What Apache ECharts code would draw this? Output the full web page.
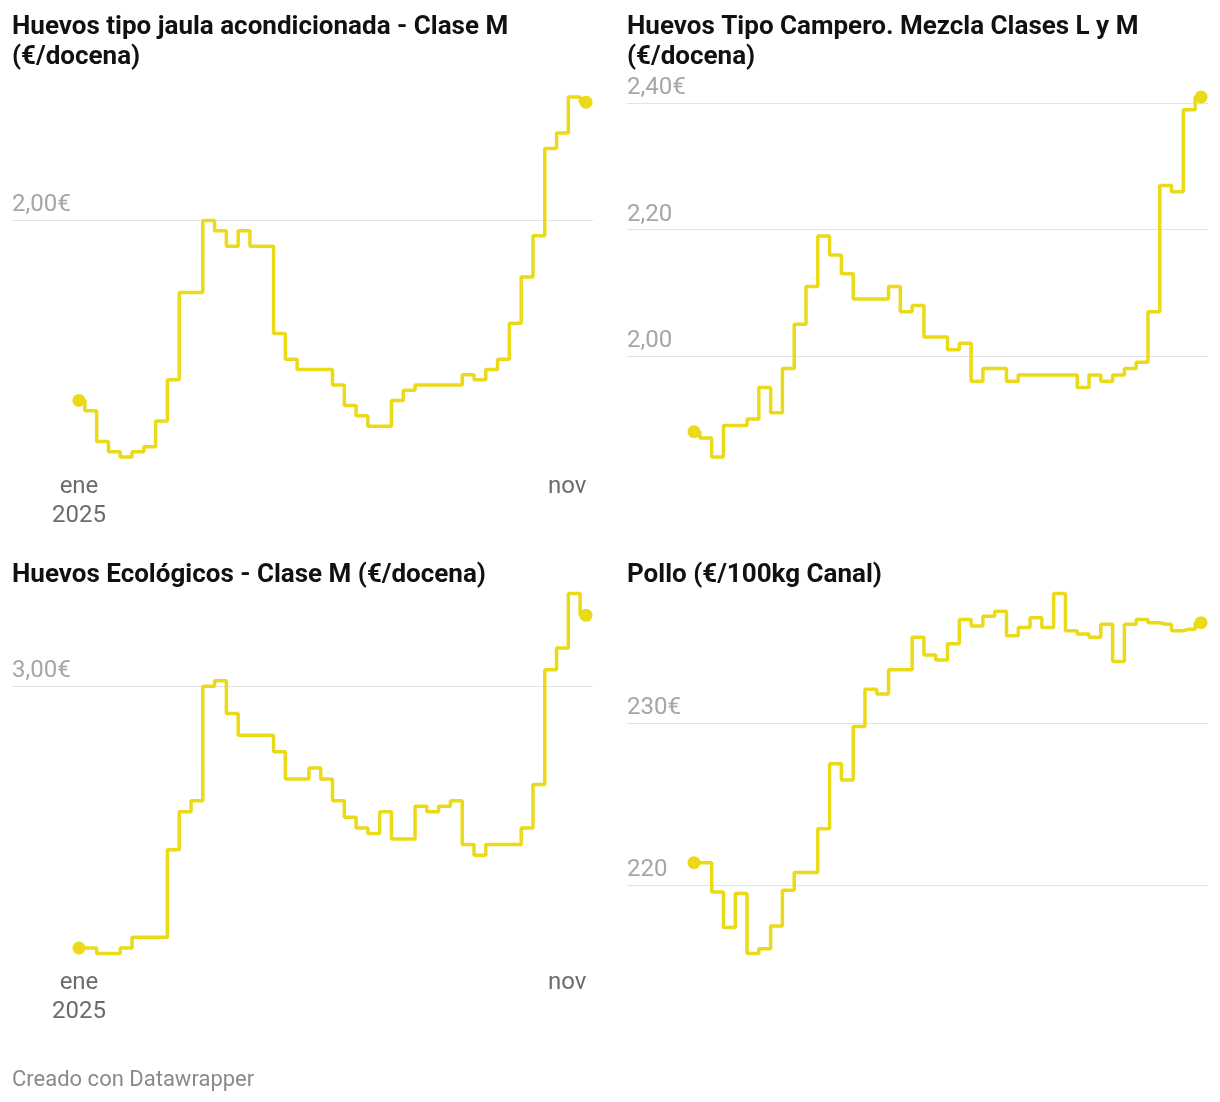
<!DOCTYPE html>
<html>
<head>
<meta charset="utf-8">
<script src="https://cdn.jsdelivr.net/npm/echarts@6/dist/echarts.min.js"></script>
<style>
html,body{margin:0;padding:0;background:#fff;}
#chart{width:1220px;height:1102px;}
</style>
</head>
<body>
<div id="chart"></div>
<script>
// Weekly prices, 2025 (week index 0..43)
const titles = [
  "Huevos tipo jaula acondicionada - Clase M\n(€/docena)",
  "Huevos Tipo Campero. Mezcla Clases L y M\n(€/docena)",
  "Huevos Ecológicos - Clase M (€/docena)",
  "Pollo (€/100kg Canal)"
];
const xTickValues = [0, 41.4];
const xTickLabels = ["ene\n2025", "nov"];

const jaulaM = [1.65,1.63,1.57,1.55,1.54,1.55,1.56,1.61,1.69,1.86,1.86,2.00,1.98,1.95,1.98,1.95,1.95,1.78,1.73,1.71,1.71,1.71,1.68,1.64,1.62,1.60,1.60,1.65,1.67,1.68,1.68,1.68,1.68,1.70,1.69,1.71,1.73,1.80,1.89,1.97,2.14,2.17,2.24,2.23];
const camperoLM = [1.88,1.87,1.84,1.89,1.89,1.90,1.95,1.91,1.98,2.05,2.11,2.19,2.16,2.13,2.09,2.09,2.09,2.11,2.07,2.08,2.03,2.03,2.01,2.02,1.96,1.98,1.98,1.96,1.97,1.97,1.97,1.97,1.97,1.95,1.97,1.96,1.97,1.98,1.99,2.07,2.27,2.26,2.39,2.41];
const ecologicoM = [2.52,2.52,2.51,2.51,2.52,2.54,2.54,2.54,2.70,2.77,2.79,3.00,3.01,2.95,2.91,2.91,2.91,2.88,2.83,2.83,2.85,2.83,2.79,2.76,2.74,2.73,2.77,2.72,2.72,2.78,2.77,2.78,2.79,2.71,2.69,2.71,2.71,2.71,2.74,2.82,3.03,3.07,3.17,3.13];
const pollo = [221.4,221.4,219.6,217.4,219.5,215.8,216.1,217.5,219.7,220.8,220.8,223.5,227.5,226.5,229.8,232.1,231.8,233.3,233.3,235.3,234.2,233.9,234.9,236.4,236.0,236.6,236.9,235.4,235.9,236.5,235.9,238.0,235.7,235.5,235.3,236.1,233.8,236.1,236.4,236.2,236.1,235.7,235.8,236.2];

const yTicks = [[2.00], [2.00, 2.20, 2.40], [3.00], [220, 230]];
const yDecimals = [2, 2, 2, 0];

const seriesValues = [jaulaM, camperoLM, ecologicoM, pollo];

const lineColor = '#ebda17';
const panels = [
  {left: 12, top: 97},
  {left: 627, top: 97},
  {left: 12, top: 593.5},
  {left: 627, top: 593.5}
];
const plotW = 581, plotH = 360;
const titleTops = [12, 12, 560, 560];

const chart = echarts.init(document.getElementById('chart'), null, {renderer: 'canvas'});

const grid = [], xAxis = [], yAxis = [], series = [], title = [];
panels.forEach((p, k) => {
  grid.push({left: p.left, top: p.top, width: plotW, height: plotH, containLabel: false});
  title.push({
    text: titles[k], left: p.left, top: titleTops[k], padding: 0,
    textStyle: {fontFamily: 'Roboto', fontWeight: 'bold', fontSize: 26, lineHeight: 30, color: '#111111'}
  });
  const showX = (k === 0 || k === 2);
  xAxis.push({
    type: 'value', gridIndex: k, min: -5.68, max: 43.59,
    axisLine: {show: false},
    axisTick: {show: false, customValues: xTickValues},
    splitLine: {show: false},
    axisLabel: {
      show: showX, customValues: xTickValues, margin: 15,
      fontFamily: 'Roboto', fontSize: 24, lineHeight: 29, color: '#6b6b6b',
      formatter: (v) => {
        const idx = xTickValues.findIndex(t => Math.abs(t - v) < 1e-6);
        return idx >= 0 ? xTickLabels[idx] : '';
      }
    }
  });
  const ticks = yTicks[k];
  const topTick = Math.max(...ticks);
  yAxis.push({
    type: 'value', gridIndex: k, min: 'dataMin', max: 'dataMax', position: 'left',
    axisLine: {show: false},
    axisTick: {show: false, customValues: ticks},
    splitLine: {show: true, lineStyle: {color: '#e2e2e2', width: 1}},
    axisLabel: {
      inside: true, margin: 0, customValues: ticks,
      verticalAlign: 'bottom', padding: [0, 0, 3, 0],
      fontFamily: 'Roboto', fontSize: 24, color: '#a6a6a6',
      formatter: (v) => v.toFixed(yDecimals[k]).replace('.', ',') + (Math.abs(v - topTick) < 1e-9 ? '€' : '')
    }
  });
  const vals = seriesValues[k];
  const n = vals.length;
  series.push({
    type: 'line', xAxisIndex: k, yAxisIndex: k, step: 'middle',
    data: vals.map((v, i) => [i, v]),
    clip: false,
    showAllSymbol: true,
    symbol: (value, params) => (params.dataIndex === 0 || params.dataIndex === n - 1) ? 'circle' : 'none',
    symbolSize: 13,
    itemStyle: {color: lineColor},
    lineStyle: {color: lineColor, width: 3.5},
    emphasis: {disabled: true},
    silent: true
  });
});

title.push({
  text: 'Creado con Datawrapper', left: 12, top: 1069, padding: 0,
  textStyle: {fontFamily: 'Roboto', fontWeight: 'normal', fontSize: 22, color: '#8a8a8a'}
});

chart.setOption({
  animation: false,
  backgroundColor: '#ffffff',
  title, grid, xAxis, yAxis, series
});
</script>
</body>
</html>
